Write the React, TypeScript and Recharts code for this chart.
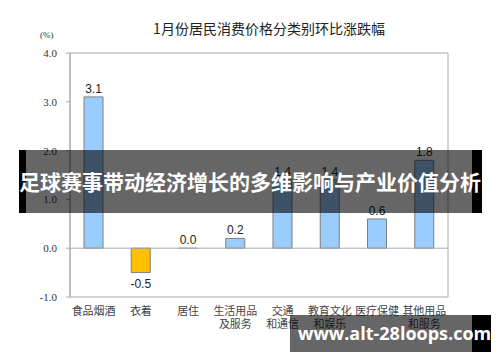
import {
  Bar,
  BarChart,
  Cell,
  LabelList,
  ReferenceArea,
  ReferenceLine,
  XAxis,
  YAxis,
} from "recharts";

const categories = [
  "食品烟酒",
  "衣着",
  "居住",
  "生活用品\n及服务",
  "交通\n和通信",
  "教育文化\n和娱乐",
  "医疗保健",
  "其他用品\n和服务",
];

const changes = [3.1, -0.5, 0.0, 0.2, 1.4, 1.4, 0.6, 1.8];

const yTicks = [-1, 0, 1, 2, 3, 4];

const data = categories.map((name, i) => ({ name, value: changes[i] }));

const cjk = '"Noto Sans CJK SC", "Noto Sans", sans-serif';

function CategoryTick(props: any) {
  const { x, y, payload } = props;
  const lines = String(payload.value).split("\n");
  return (
    <g>
      {lines.map((line, i) => (
        <text
          key={i}
          x={x}
          y={y + 18 + i * 13}
          textAnchor="middle"
          fontSize={11}
          fontFamily={cjk}
          fill="#444"
        >
          {line}
        </text>
      ))}
    </g>
  );
}

function ValueLabel(props: any) {
  const { x, y, width, height, value } = props;
  const top = Math.min(y, y + height);
  const bottom = Math.max(y, y + height);
  const cx = x + width / 2;
  const neg = value < 0;
  return (
    <text
      x={cx}
      y={neg ? bottom + 15 : top - 4}
      textAnchor="middle"
      fontSize={12}
      fontFamily='"Liberation Sans", Arial, sans-serif'
      fill="#222"
    >
      {Number(value).toFixed(1)}
    </text>
  );
}

export default function App() {
  return (
    <div
      style={{
        position: "absolute",
        top: 0,
        left: 0,
        width: 500,
        height: 362,
        background: "#fff",
        overflow: "hidden",
      }}
    >
      <div
        style={{
          position: "absolute",
          top: 18,
          left: 0,
          width: 538,
          textAlign: "center",
          fontFamily: cjk,
          fontSize: 14,
          color: "#222",
        }}
      >
        1月份居民消费价格分类别环比涨跌幅
      </div>
      <div
        style={{
          position: "absolute",
          top: 30,
          left: 40,
          fontFamily: '"Liberation Serif", serif',
          fontSize: 9,
          color: "#333",
        }}
      >
        (%)
      </div>

      <BarChart
        width={500}
        height={362}
        data={data}
        margin={{ top: 53, right: 52, left: 0, bottom: 0 }}
      >
        <XAxis
          dataKey="name"
          height={65}
          axisLine={false}
          tickLine={false}
          tickSize={0}
          tickMargin={0}
          interval={0}
          tick={<CategoryTick />}
        />
        <YAxis
          width={70}
          domain={[-1, 4]}
          ticks={yTicks}
          interval={0}
          tickFormatter={(v: number) => v.toFixed(1)}
          axisLine={{ stroke: "#aaa" }}
          tickLine={{ stroke: "#aaa" }}
          tickSize={4}
          tickMargin={9}
          tick={{
            fontSize: 11,
            fontFamily: '"Liberation Serif", serif',
            fill: "#333",
          }}
        />
        <ReferenceArea
          y1={-1}
          y2={4}
          fill="none"
          stroke="#aaa"
          strokeWidth={1}
          fillOpacity={0}
        />
        <ReferenceLine y={0} stroke="#aaa" />
        <Bar
          dataKey="value"
          barSize={19}
          stroke="#aaa"
          strokeWidth={1}
          minPointSize={(v: number) => (v === 0 ? 0.01 : 0)}
          isAnimationActive={false}
        >
          {data.map((d, i) => (
            <Cell
              key={i}
              fill={d.value < 0 ? "#FFC000" : "#99CCFF"}
              stroke={d.value === 0 ? "#aaa" : "#7f7f7f"}
            />
          ))}
          <LabelList dataKey="value" content={<ValueLabel />} />
        </Bar>
      </BarChart>

      <div
        style={{
          position: "absolute",
          top: 150,
          left: 19,
          width: 463,
          height: 63,
          background: "rgba(0,0,0,0.6)",
          borderLeft: "7px solid #000",
          borderRight: "10px solid #000",
          boxSizing: "border-box",
        }}
      />
      <div
        style={{
          position: "absolute",
          top: 150,
          left: 0,
          width: 500,
          height: 63,
          lineHeight: "63px",
          textAlign: "center",
          color: "#fff",
          fontFamily: cjk,
          fontWeight: 700,
          fontSize: 21,
          whiteSpace: "nowrap",
        }}
      >
        足球赛事带动经济增长的多维影响与产业价值分析
      </div>

      <div
        style={{
          position: "absolute",
          top: 315,
          left: 290,
          width: 201,
          height: 37,
          background: "rgba(0,0,0,0.6)",
          borderRight: "19px solid #000",
          boxSizing: "border-box",
        }}
      />
      <div
        style={{
          position: "absolute",
          top: 315,
          left: 298,
          height: 37,
          lineHeight: "37px",
          color: "#fff",
          fontFamily: '"Open Sans", sans-serif',
          fontWeight: 700,
          fontSize: 18,
          whiteSpace: "nowrap",
        }}
      >
        www.alt-28loops.com
      </div>
    </div>
  );
}
